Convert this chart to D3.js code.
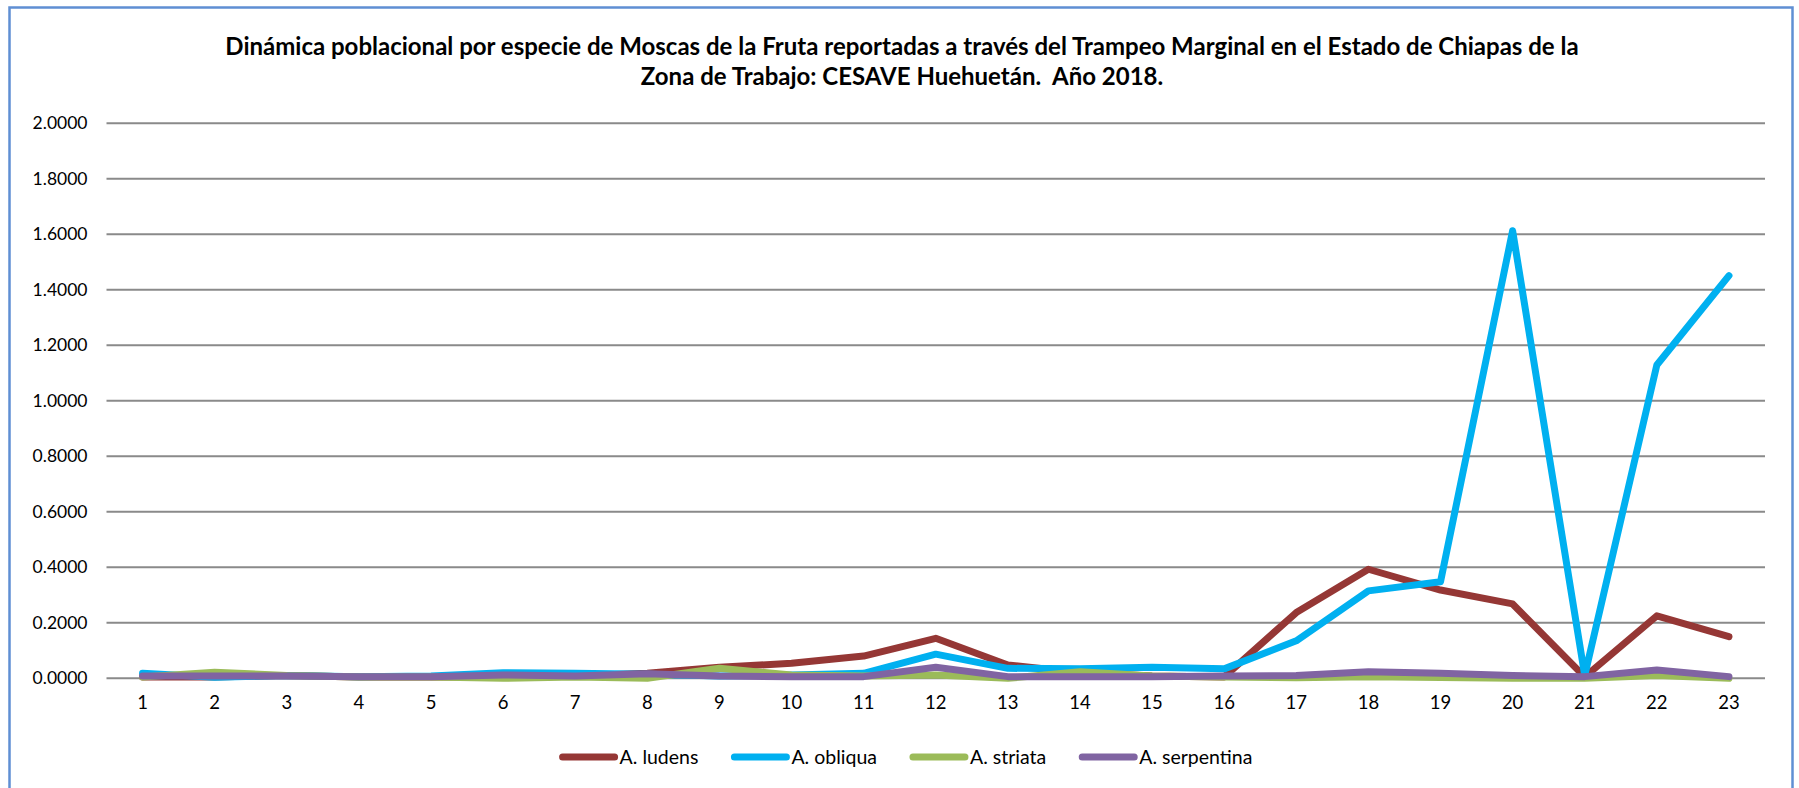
<!DOCTYPE html>
<html>
<head>
<meta charset="utf-8">
<script src="https://cdn.jsdelivr.net/npm/d3@7"></script>
<style>
  html, body { margin: 0; padding: 0; background: #ffffff; }
  svg { display: block; }
  text { font-family: Lato, "Open Sans", "Noto Sans", sans-serif; fill: #000; }
</style>
</head>
<body>
<svg id="chart" width="1799" height="788"></svg>
<script>
// Trap periods (weeks) on the x axis
const categories = d3.range(1, 24).map(String);

// Flies per trap per day, by species
const ludens     = [0.005,0.005,0.010,0.005,0.005,0.005,0.008,0.018,0.040,0.054,0.080,0.144,0.048,0.020,0.008,0.005,0.237,0.393,0.318,0.268,0.005,0.225,0.150];
const obliqua    = [0.018,0.004,0.010,0.006,0.008,0.020,0.018,0.015,0.008,0.012,0.018,0.087,0.036,0.034,0.040,0.034,0.135,0.315,0.348,1.613,0.010,1.129,1.451];
const striata    = [0.005,0.022,0.010,0.005,0.005,0.000,0.005,0.000,0.036,0.012,0.008,0.012,0.000,0.024,0.008,0.005,0.002,0.006,0.003,0.000,0.000,0.010,0.000];
const serpentina = [0.008,0.008,0.008,0.006,0.006,0.012,0.008,0.016,0.008,0.006,0.006,0.040,0.006,0.006,0.006,0.008,0.010,0.024,0.018,0.010,0.006,0.030,0.006];

const seriesNames  = ["A. ludens", "A. obliqua", "A. striata", "A. serpentina"];
const seriesColors = ["#953735", "#00b0f0", "#9bbb59", "#8064a2"];
const yTicks = [0, 0.2, 0.4, 0.6, 0.8, 1.0, 1.2, 1.4, 1.6, 1.8, 2.0];

const titleLines = [
  "Dinámica poblacional por especie de Moscas de la Fruta reportadas a través del Trampeo Marginal en el Estado de Chiapas de la",
  "Zona de Trabajo: CESAVE Huehuetán.  Año 2018."
];

const series = [ludens, obliqua, striata, serpentina].map((values, i) => ({
  name: seriesNames[i], color: seriesColors[i], values
}));

const svg = d3.select("#chart");

// outer frame
svg.append("rect")
  .attr("x", 9.5).attr("y", 7.5)
  .attr("width", 1783).attr("height", 800)
  .attr("fill", "#fff")
  .attr("stroke", "#5f8fd3").attr("stroke-width", 2.5);

const plot = { left: 106.5, right: 1765, top: 123.3, bottom: 678.3 };

const x = d3.scaleBand().domain(categories).range([plot.left, plot.right]);
const y = d3.scaleLinear().domain([0, 2]).range([plot.bottom, plot.top]);
const cx = c => x(c) + x.bandwidth() / 2;

// title
svg.append("g").selectAll("text").data(titleLines).join("text")
  .attr("x", 902).attr("y", (d, i) => 55 + i * 30)
  .attr("text-anchor", "middle")
  .attr("font-weight", "bold")
  .attr("font-size", 24)
  .style("white-space", "pre")
  .text(d => d);

// horizontal gridlines
svg.append("g").selectAll("line").data(yTicks).join("line")
  .attr("x1", plot.left).attr("x2", plot.right)
  .attr("y1", d => y(d)).attr("y2", d => y(d))
  .attr("stroke", "#8a8a8a").attr("stroke-width", 2);

// y axis labels
const yAxis = d3.axisLeft(y).tickValues(yTicks).tickFormat(d3.format(".4f")).tickSize(0).tickPadding(0);
svg.append("g")
  .attr("transform", `translate(${plot.left - 19},0)`)
  .call(yAxis)
  .call(g => g.select(".domain").remove())
  .call(g => g.selectAll("text").attr("font-size", 17.5).attr("fill", "#000")
    .style("font-family", "Lato, 'Open Sans', sans-serif"));

// x axis labels
const xAxis = d3.axisBottom(x).tickSize(0).tickPadding(0);
svg.append("g")
  .attr("transform", `translate(0,${plot.bottom + 18})`)
  .call(xAxis)
  .call(g => g.select(".domain").remove())
  .call(g => g.selectAll("text").attr("font-size", 18.5).attr("fill", "#000")
    .style("font-family", "Lato, 'Open Sans', sans-serif"));

// series lines
const line = d3.line()
  .x((d, i) => cx(categories[i]))
  .y(d => y(d));

svg.append("g").selectAll("path").data(series).join("path")
  .attr("d", d => line(d.values))
  .attr("fill", "none")
  .attr("stroke", d => d.color)
  .attr("stroke-width", 7)
  .attr("stroke-linejoin", "round")
  .attr("stroke-linecap", "round");

// legend
const legendY = 757;
const legend = svg.append("g");
const item = legend.selectAll("g").data(series).join("g");
item.append("line")
  .attr("x1", 0).attr("x2", 52)
  .attr("y1", 0).attr("y2", 0)
  .attr("stroke", d => d.color)
  .attr("stroke-width", 7)
  .attr("stroke-linecap", "round");
item.append("text")
  .attr("x", 57).attr("y", 0)
  .attr("dy", "0.35em")
  .attr("font-size", 19.5)
  .text(d => d.name);

// lay items out left to right, then center the row
const widths = [];
item.each(function () { widths.push(this.getBBox().width); });
const gap = 36;
const total = d3.sum(widths) + gap * (widths.length - 1);
let start = 904 - total / 2 + 3.5;
item.attr("transform", (d, i) => {
  const t = `translate(${start},${legendY})`;
  start += widths[i] + gap;
  return t;
});
</script>
</body>
</html>
